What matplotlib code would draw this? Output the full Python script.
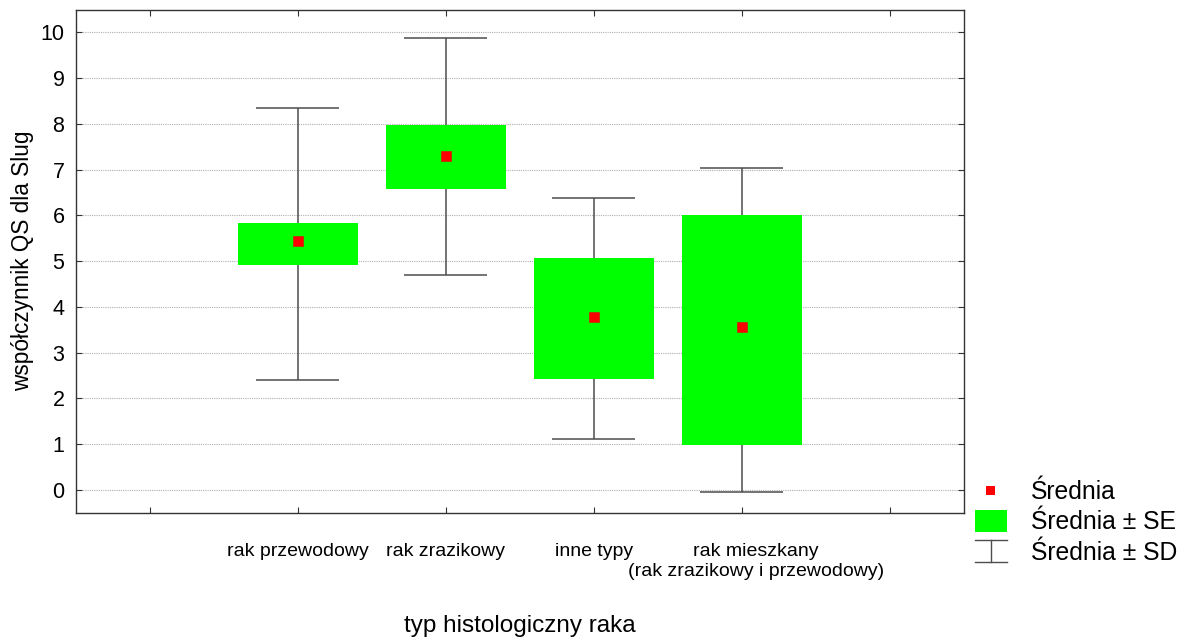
import matplotlib.pyplot as plt
from matplotlib.legend_handler import HandlerBase
from matplotlib.lines import Line2D
from matplotlib.patches import Rectangle
from matplotlib.transforms import ScaledTranslation

plt.rcParams['font.family'] = ['Liberation Sans', 'DejaVu Sans']

categories = ['rak przewodowy', 'rak zrazikowy', 'inne typy',
              'rak mieszkany\n(rak zrazikowy i przewodowy)']
means = [5.43, 7.31, 3.78, 3.56]
se_low = [4.92, 6.58, 2.43, 0.99]
se_high = [5.83, 7.97, 5.07, 6.01]
sd_low = [2.40, 4.70, 1.12, -0.05]
sd_high = [8.35, 9.87, 6.38, 7.04]

line_col = '#4d4d4d'
green = '#00ff00'
red = '#ff0000'


class MeanKey: pass
class SEKey: pass
class SDKey: pass


class MeanHandler(HandlerBase):
    def create_artists(self, legend, orig_handle, xdescent, ydescent,
                       width, height, fontsize, trans):
        xm = -xdescent + width / 2
        ym = -ydescent + height / 2
        r = Rectangle((xm - 3.5, ym - 3), 6, 6, facecolor=red, edgecolor='none', transform=trans)
        return [r]


class SEHandler(HandlerBase):
    def create_artists(self, legend, orig_handle, xdescent, ydescent,
                       width, height, fontsize, trans):
        ym = -ydescent + height / 2
        r = Rectangle((-xdescent, ym - 8), width, 16, facecolor=green, edgecolor='none', transform=trans)
        return [r]


class SDHandler(HandlerBase):
    # I-beam symbol for the "mean +/- SD" entry
    def create_artists(self, legend, orig_handle, xdescent, ydescent,
                       width, height, fontsize, trans):
        x0, x1 = -xdescent, -xdescent + width
        xm = (x0 + x1) / 2
        ym = -ydescent + height / 2
        y0, y1 = ym - 8, ym + 8
        arts = [Line2D([x0, x1], [y1, y1], color=line_col, lw=1),
                Line2D([x0, x1], [y0, y0], color=line_col, lw=1),
                Line2D([xm, xm], [y0, y1], color=line_col, lw=1)]
        for a in arts:
            a.set_transform(trans)
        return arts


fig = plt.figure(figsize=(11.95, 6.41), dpi=100)
ax = fig.add_axes([0.0632, 0.2002, 0.7435, 0.7848])

pos = list(range(1, len(categories) + 1))

# whiskers (SD)
ax.vlines(pos, sd_low, sd_high, color=line_col, lw=1.1, zorder=2)
ax.hlines(sd_low, [p - 0.28 for p in pos], [p + 0.28 for p in pos], color=line_col, lw=1.1, zorder=2)
ax.hlines(sd_high, [p - 0.28 for p in pos], [p + 0.28 for p in pos], color=line_col, lw=1.1, zorder=2)

# SE boxes
heights = [h - l for h, l in zip(se_high, se_low)]
ax.bar(pos, heights, bottom=se_low, width=0.81, color=green, edgecolor='none', zorder=3)

# means
ax.scatter(pos, means, marker='s', s=50, color=red, edgecolor='#cc2200', lw=0.5, zorder=4)

ax.set_xlim(-0.5, 5.5)
ax.set_ylim(-0.5, 10.5)
ax.set_xticks(range(0, 6))
ax.set_xticklabels([''] + categories + [''], fontsize=14)
ax.set_yticks(range(0, 11))
ax.tick_params(axis='y', labelsize=15.5, direction='in', right=True, length=4, pad=8, color='#333333')
ax.tick_params(axis='x', direction='in', top=True, length=4, pad=22, color='#333333')
ax.grid(axis='y', color='#b0b0b0', ls=(0, (1, 1)), lw=0.8)
ax.set_axisbelow(True)
for s in ax.spines.values():
    s.set_color('#333333')
    s.set_linewidth(1)

# the two-line label sits a little right of its tick in the original
lab = ax.get_xticklabels()[4]
lab.set_transform(lab.get_transform() + ScaledTranslation(10 / 72, 0, fig.dpi_scale_trans))

ax.set_ylabel('współczynnik QS dla Slug', fontsize=16.3)
ax.yaxis.set_label_coords(-0.047, 0.5)
ax.set_xlabel('typ histologiczny raka', fontsize=17.5)
ax.xaxis.set_label_coords(0.5, -0.203)

fig.legend([MeanKey(), SEKey(), SDKey()], ['Średnia', 'Średnia ± SE', 'Średnia ± SD'],
           handler_map={MeanKey: MeanHandler(), SEKey: SEHandler(), SDKey: SDHandler()},
           loc='center left', bbox_to_anchor=(0.816, 0.185), frameon=False,
           fontsize=17.8, handlelength=1.3, handleheight=0.9, handletextpad=0.97,
           labelspacing=0.26, borderpad=0, borderaxespad=0)

fig.savefig('out.png', dpi=100)
